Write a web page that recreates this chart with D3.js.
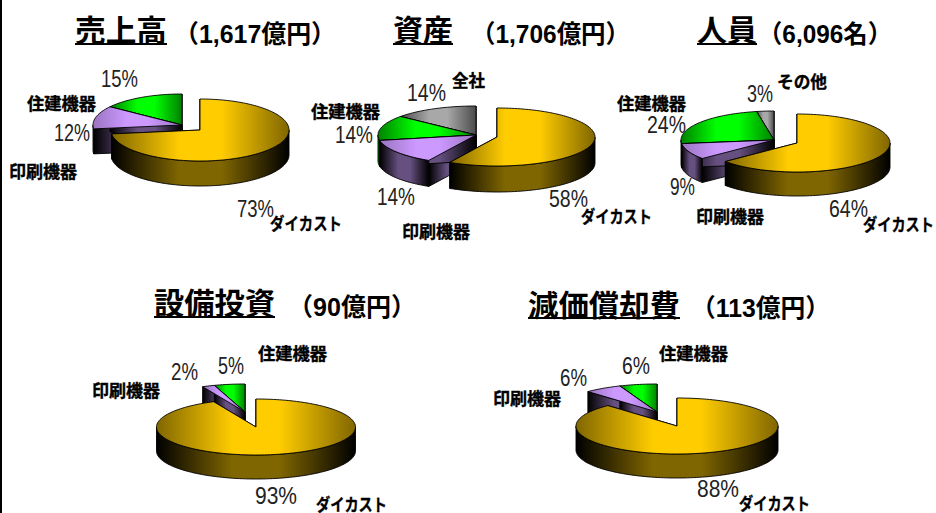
<!DOCTYPE html>
<html>
<head>
<meta charset="utf-8">
<script src="https://cdn.jsdelivr.net/npm/d3@7/dist/d3.min.js"></script>
<style>
    body { margin: 0; background: #fff; overflow: hidden; }
    svg { display: block; }
    text { fill: #000; }
    .title { font-family: "Noto Sans CJK JP"; font-size: 30px; font-weight: 700; }
    .sub { font-family: "Liberation Sans", "Noto Sans CJK JP"; font-size: 25px; font-weight: bold; }
    .pct { font-family: "Liberation Sans"; font-size: 23px; fill: #222; }
    .cat { font-family: "Noto Sans CJK JP"; font-size: 17px; font-weight: bold; stroke: #000; stroke-width: 0.35px; }
</style>
</head>
<body>
<svg id="chart" width="936" height="513"></svg>
<script>
const titles = ["売上高", "資産", "人員", "設備投資", "減価償却費"]
const totals = ["（1,617億円）", "（1,706億円）", "（6,096名）", "（90億円）", "（113億円）"]

const categories1 = ["ダイカスト", "印刷機器", "住建機器"]
const categories2 = ["ダイカスト", "印刷機器", "住建機器", "全社"]
const categories3 = ["ダイカスト", "印刷機器", "住建機器", "その他"]

const sales = [73, 12, 15]
const assets = [58, 14, 14, 14]
const staff = [64, 9, 24, 3]
const capex = [93, 2, 5]
const depreciation = [88, 6, 6]

// top colour, edge of top, middle of side
const palette = {
    "ダイカスト": ["#ffcc00", "#806600", "#806600"],
    "印刷機器": ["#cc99ff", "#9a74c0", "#665080"],
    "住建機器": ["#00ff00", "#008000", "#008000"],
    "全社": ["#a8a8a8", "#4b4b4b", "#4b4b4b"],
    "その他": ["#a8a8a8", "#4b4b4b", "#4b4b4b"]
}

// where each pie sits on the page, main = the big slice, rest = the others
const layouts = [
    {main: [200, 130], rest: [182, 125], rx: 89, ry: 31, depth: 25, title: [75, 41, 92, 44], sub: [174, 43, 162],
        pct: [[237, 217, 37], [54, 141, 36], [101, 87, 37]],
        cat: [[270, 230, 72], [9, 178, 68], [27, 110, 69]]},
    {main: [497, 137], rest: [476, 135], rx: 98, ry: 29, depth: 26, title: [393, 41, 60, 44], sub: [471, 43, 159],
        pct: [[549, 207, 39], [377, 205, 38], [335, 143, 38], [407, 101, 39]],
        cat: [[581, 223, 71], [402, 238, 68], [311, 118, 69], [452, 87, 33]]},
    {main: [797, 143], rest: [774, 140], rx: 93, ry: 29, depth: 24, title: [697, 41, 60, 44], sub: [758, 43, 134],
        pct: [[829, 217, 39], [670, 195, 25], [647, 133, 39], [747, 102, 26]],
        cat: [[863, 231, 71], [696, 223, 68], [617, 110, 69], [777, 88, 50]]},
    {main: [256, 427], rest: [245, 412], rx: 99.5, ry: 28, depth: 24, title: [154, 314, 121, 317], sub: [288, 316, 128],
        pct: [[255, 504, 42], [171, 380, 27], [218, 374, 26]],
        cat: [[316, 511, 71], [92, 397, 68], [258, 360, 69]]},
    {main: [677, 426], rest: [657, 412], rx: 101, ry: 28, depth: 24, title: [528, 316, 152, 318], sub: [691, 317, 139],
        pct: [[697, 497, 42], [560, 386, 27], [622, 374, 28]],
        cat: [[739, 510, 71], [493, 405, 68], [659, 360, 69]]}
]

const charts = [
    {values: sales, names: categories1},
    {values: assets, names: categories2},
    {values: staff, names: categories3},
    {values: capex, names: categories1},
    {values: depreciation, names: categories1}
]

const svg = d3.select("#chart")
const defs = svg.append("defs")
const pie = d3.pie().sort(null)
const line = d3.line()

const makeGradient = (id, edge, middle) => {
    let g = defs.append("linearGradient").attr("id", id)
    ;[[0, edge], [38, middle], [62, middle], [100, edge]].forEach(([o, c]) => {
        g.append("stop").attr("offset", o + "%").attr("stop-color", c)
    })
}

Object.keys(palette).forEach((name, i) => {
    let [top, edge, side] = palette[name]
    makeGradient("top" + i, edge, top)
    makeGradient("side" + i, "#000", side)
})
const gradientId = (kind, name) => "url(#" + kind + Object.keys(palette).indexOf(name) + ")"

// angle is clockwise from 12 o'clock, same as d3.pie
const rim = (c, rx, ry, a, dy = 0) => [c[0] + Math.sin(a) * rx, c[1] - Math.cos(a) * ry + dy]

const arcPoints = (c, rx, ry, a0, a1, dy = 0) => {
    let n = Math.max(2, Math.ceil((a1 - a0) / 0.03))
    return d3.range(n + 1).map(i => rim(c, rx, ry, a0 + (a1 - a0) * i / n, dy))
}

const face = (g, points, fill) => g.append("path")
    .attr("d", line(points) + "Z")
    .attr("fill", fill)
    .attr("stroke", "#000")
    .attr("stroke-width", 0.9)
    .attr("stroke-linejoin", "round")

const drawSlice = (g, c, lay, arc, name) => {
    let {rx, ry, depth} = lay
    let a0 = arc.startAngle, a1 = arc.endAngle
    let side = gradientId("side", name)

    // cut faces first, the wall and the top paint over what should be hidden
    ;[a0, a1].forEach(a => {
        let p = rim(c, rx, ry, a)
        face(g, [c, p, [p[0], p[1] + depth], [c[0], c[1] + depth]], side)
    })

    let w0 = Math.max(a0, Math.PI / 2), w1 = Math.min(a1, Math.PI * 1.5)
    if (w1 > w0) {
        let upper = arcPoints(c, rx, ry, w0, w1)
        let lower = arcPoints(c, rx, ry, w0, w1, depth).reverse()
        face(g, upper.concat(lower), side)
    }

    face(g, [c].concat(arcPoints(c, rx, ry, a0, a1)), gradientId("top", name))
}

const renderPie = (chart, lay, i) => {
    let g = svg.append("g").attr("class", "pie")
    let arcs = pie(chart.values)

    // small slices sit behind, go from the back ones to the front ones
    for (let k = arcs.length - 1; k >= 1; k--) drawSlice(g, lay.rest, lay, arcs[k], chart.names[k])
    drawSlice(g, lay.main, lay, arcs[0], chart.names[0])

    g.selectAll(".pct")
        .data(chart.values)
        .enter().append("text")
        .attr("class", "pct")
        .attr("x", (d, k) => lay.pct[k][0])
        .attr("y", (d, k) => lay.pct[k][1])
        .attr("textLength", (d, k) => lay.pct[k][2])
        .attr("lengthAdjust", "spacingAndGlyphs")
        .text(d => d + "%")

    g.selectAll(".cat")
        .data(chart.names)
        .enter().append("text")
        .attr("class", "cat")
        .attr("x", (d, k) => lay.cat[k][0])
        .attr("y", (d, k) => lay.cat[k][1])
        .attr("textLength", (d, k) => lay.cat[k][2])
        .attr("lengthAdjust", "spacingAndGlyphs")
        .text(d => d)

    let [tx, ty, tw, uy] = lay.title
    g.append("text").attr("class", "title")
        .attr("x", tx).attr("y", ty)
        .attr("textLength", tw).attr("lengthAdjust", "spacingAndGlyphs")
        .text(titles[i])
    g.append("line")
        .attr("x1", tx).attr("x2", tx + tw)
        .attr("y1", uy).attr("y2", uy)
        .attr("stroke", "#000").attr("stroke-width", 2)
    g.append("text").attr("class", "sub")
        .attr("x", lay.sub[0]).attr("y", lay.sub[1])
        .attr("textLength", lay.sub[2]).attr("lengthAdjust", "spacingAndGlyphs")
        .text(totals[i])
}

svg.append("rect").attr("width", 936).attr("height", 513).attr("fill", "#fff")
svg.append("rect").attr("width", 2).attr("height", 513).attr("fill", "#000")

charts.forEach((chart, i) => renderPie(chart, layouts[i], i))
</script>
</body>
</html>
